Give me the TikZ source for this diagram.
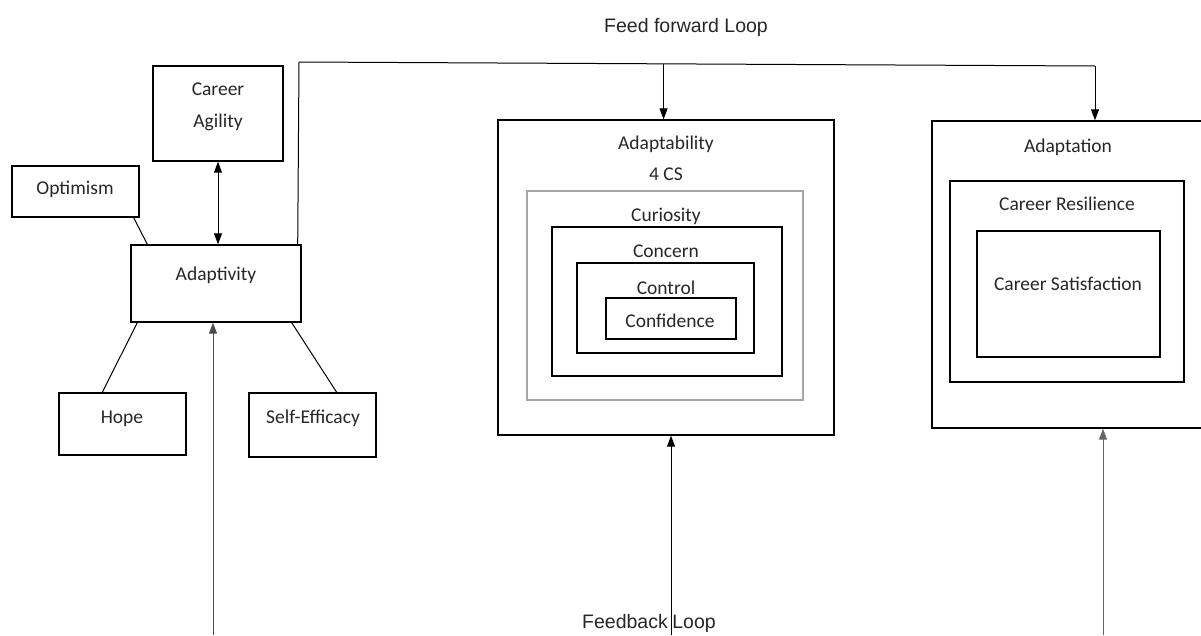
\documentclass[tikz,border=0pt]{standalone}
\usepackage{fontspec}
\setmainfont{Carlito}
\newfontfamily\loopfont{Liberation Sans}
\usepackage{tikz}
\usetikzlibrary{arrows.meta, fit, calc}
\newcommand{\testo}{\fontsize{19.5}{23}\selectfont}
\newcommand{\testoloop}{\loopfont\fontsize{19.5}{23}\selectfont}
\tikzset{
    scatola/.style = {draw, line width = 1.4pt, inner sep = 0pt},
    scritta/.style = {anchor = base, inner sep = 0pt, font = \testo, text = black!85},
    linea/.style = {line width = 1pt},
    punta/.style = {-{Triangle[length = 11pt, width = 8pt]}}
}

\begin{document}
\begin{tikzpicture}[x = 1pt, y = -1pt]
    \useasboundingbox (0,0) rectangle (1201,635);
    \clip (0,0) rectangle (1201,635);
    % Adaptivity e dintorni
    \node[scatola, fit = {(153,66) (283,161)}] (agility) {};
    \node[scatola, fit = {(12,166) (139,217)}] (optimism) {};
    \node[scatola, fit = {(131,245) (301,322)}] (adaptivity) {};
    \node[scatola, fit = {(59,393) (186,455)}] (hope) {};
    \node[scatola, fit = {(249,393) (376,457)}] (selfeff) {};
    \node[scritta] (agilitytxta) at (218,95) {Career};
    \node[scritta] (agilitytxtb) at (218,127) {Agility};
    \node[scritta] (optimismtxt) at (75,194) {Optimism};
    \node[scritta] (adaptivitytxt) at (216,280) {Adaptivity};
    \node[scritta] (hopetxt) at (122,423) {Hope};
    \node[scritta] (selfefftxt) at (313,423) {Self-Efficacy};
    % collegamenti
    \draw[linea] ([xshift = -6pt]optimism.south east) -- ([xshift = 17pt]adaptivity.north west);
    \draw[linea] ([xshift = 7pt]adaptivity.south west) -- ([xshift = 44pt]hope.north west);
    \draw[linea] ([xshift = -10pt]adaptivity.south east) -- ([xshift = -40pt]selfeff.north east);
    \draw[linea, {Triangle[length = 11pt, width = 8pt]}-{Triangle[length = 11pt, width = 8pt]}] (agility.south) -- (agility.south |- adaptivity.north);
    % Adaptability 4 CS
    \node[scatola, fit = {(498,120) (834,435)}] (adaptability) {};
    \node[scatola, draw = gray!70, line width = 1.2pt, fit = {(527,191) (803,400)}] (curiosity) {};
    \node[scatola, fit = {(552,227) (782,376)}] (concern) {};
    \node[scatola, fit = {(577,263) (754,353)}] (control) {};
    \node[scatola, fit = {(606,298) (736,339)}] (confidence) {};
    \node[scritta] (adaptabilitytxt) at (666,149) {Adaptability};
    \node[scritta] (cstxt) at (666,180) {4 CS};
    \node[scritta] (curiositytxt) at (666,221) {Curiosity};
    \node[scritta] (concerntxt) at (666,257) {Concern};
    \node[scritta] (controltxt) at (666,294) {Control};
    \node[scritta] (confidencetxt) at (670,327) {Confidence};
    % Adaptation
    \node[scatola, fit = {(932,121) (1215,428)}] (adaptation) {};
    \node[scatola, fit = {(950,181) (1184,382)}] (resilience) {};
    \node[scatola, fit = {(977,231) (1160,357)}] (satisfaction) {};
    \node[scritta] (adaptationtxt) at (1068,152) {Adaptation};
    \node[scritta] (resiliencetxt) at (1067,210) {Career Resilience};
    \node[scritta] (satisfactiontxt) at (1068,290) {Career Satisfaction};
    % Feed forward loop
    \coordinate (ffsx) at (299,62);
    \coordinate (ffdx) at (1095,66);
    \coordinate (ffa) at ($(ffsx)!0.458!(ffdx)$);
    \draw[linea] ([xshift = -4pt]adaptivity.north east) -- (ffsx) -- (ffdx);
    \draw[linea, punta] (ffa) -- (ffa |- adaptability.north);
    \draw[linea, punta] (ffdx) -- (ffdx |- adaptation.north);
    \node[scritta, font = \testoloop] (fftxt) at (686,32) {Feed forward Loop};
    % Feedback loop
    \coordinate (fba) at (213,635);
    \coordinate (fbb) at (671,635);
    \coordinate (fbc) at (1103,635);
    \draw[linea, draw = black!70, punta] (fba) -- (fba |- adaptivity.south);
    \draw[linea, punta] (fbb) -- (fbb |- adaptability.south);
    \draw[linea, draw = black!60, punta] (fbc) -- (fbc |- adaptation.south);
    \node[scritta, font = \testoloop] (fbtxta) at (625,628) {Feedback};
    \node[scritta, font = \testoloop] (fbtxtb) at (694,628) {Loop};
\end{tikzpicture}
\end{document}
